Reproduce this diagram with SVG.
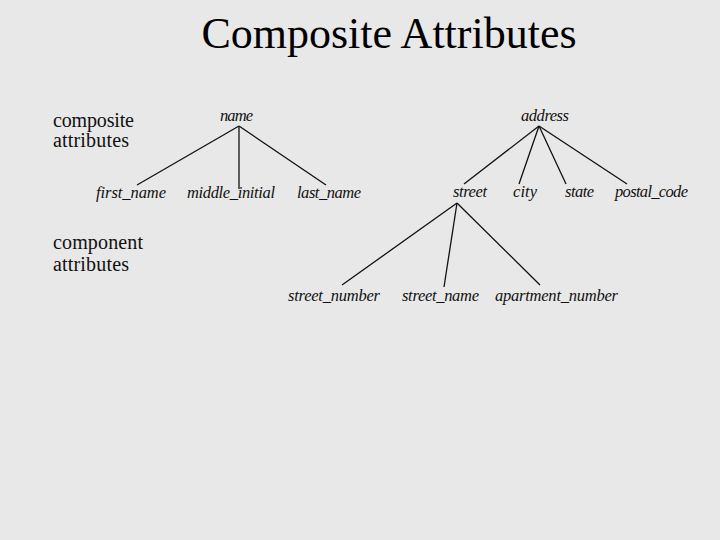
<svg xmlns="http://www.w3.org/2000/svg" width="720" height="540" viewBox="0 0 720 540">
<style>
.title{font-family:"Liberation Serif","Times New Roman",serif;font-size:44px;fill:#000}
.lbl{font-family:"Liberation Serif","Times New Roman",serif;font-size:20px;fill:#111}
.att{font-family:"Liberation Serif","Times New Roman",serif;font-size:16.5px;font-style:italic;fill:#111}
.edge{stroke:#111;stroke-width:1.3;fill:none}
</style>
<rect width="720" height="540" fill="#e8e8e8"/>
<text class="title" x="389" y="48" text-anchor="middle">Composite Attributes</text>
<g id="legend-composite"><text class="lbl" x="53" y="127" textLength="81">composite</text><text class="lbl" x="53" y="147" textLength="76">attributes</text></g>
<g id="legend-component"><text class="lbl" x="53" y="249" textLength="90">component</text><text class="lbl" x="53" y="271" textLength="76">attributes</text></g>
<g id="connectors">
<line class="edge" x1="239" y1="126" x2="137" y2="185"/>
<line class="edge" x1="239" y1="126" x2="239" y2="189"/>
<line class="edge" x1="239" y1="126" x2="326" y2="185"/>
<line class="edge" x1="539" y1="126" x2="464" y2="184"/>
<line class="edge" x1="539" y1="126" x2="519" y2="184"/>
<line class="edge" x1="539" y1="126" x2="566" y2="184"/>
<line class="edge" x1="539" y1="126" x2="627" y2="184"/>
<line class="edge" x1="457" y1="203" x2="342" y2="285"/>
<line class="edge" x1="457" y1="203" x2="444" y2="287"/>
<line class="edge" x1="457" y1="203" x2="540" y2="285"/>
</g>
<g id="name"><text class="att" x="220" y="121" textLength="33">name</text></g>
<g id="first_name"><text class="att" x="96" y="198" textLength="70">first_name</text></g>
<g id="middle_initial"><text class="att" x="187" y="198" textLength="88">middle_initial</text></g>
<g id="last_name"><text class="att" x="297" y="198" textLength="64">last_name</text></g>
<g id="address"><text class="att" x="521" y="121" textLength="48">address</text></g>
<g id="street"><text class="att" x="453" y="197" textLength="34">street</text></g>
<g id="city"><text class="att" x="513" y="197" textLength="24">city</text></g>
<g id="state"><text class="att" x="565" y="197" textLength="29">state</text></g>
<g id="postal_code"><text class="att" x="615" y="197" textLength="73">postal_code</text></g>
<g id="street_number"><text class="att" x="288" y="301" textLength="92">street_number</text></g>
<g id="street_name"><text class="att" x="402" y="301" textLength="77">street_name</text></g>
<g id="apartment_number"><text class="att" x="495" y="301" textLength="123">apartment_number</text></g>
</svg>
